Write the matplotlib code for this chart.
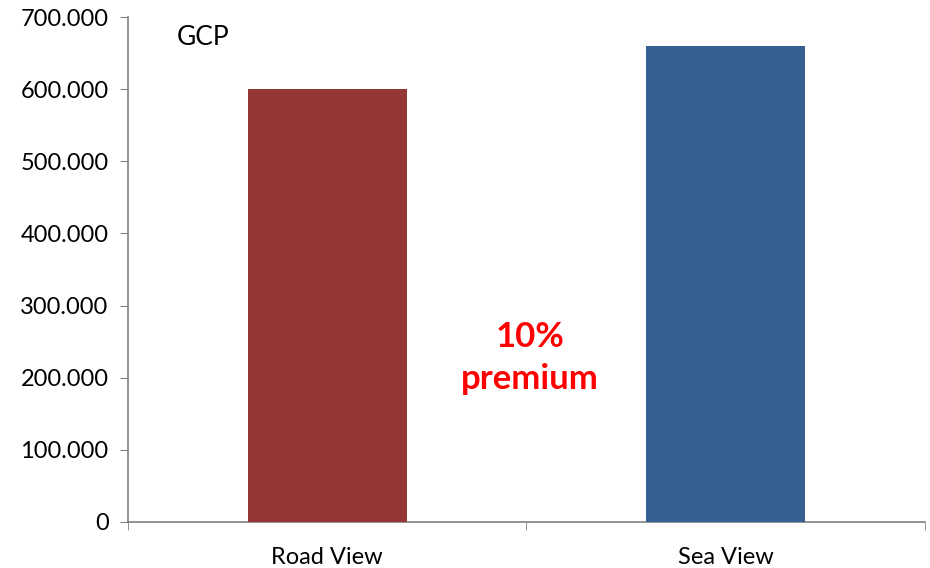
import matplotlib
matplotlib.use('Agg')
import matplotlib.pyplot as plt
from matplotlib.ticker import FuncFormatter, FixedLocator

plt.rcParams['font.family'] = ['Lato', 'DejaVu Sans']

categories = ['Road View', 'Sea View']
values = [600000, 660000]
bar_colors = ['#953735', '#366092']
y_ticks = [0, 100000, 200000, 300000, 400000, 500000, 600000, 700000]


def thousands(v, pos):
    if v == 0:
        return '0'
    return '{:,.0f}'.format(v).replace(',', '.')


fig = plt.figure(figsize=(9.3, 5.68), dpi=100)
ax = fig.add_axes([0.1376, 0.081, 0.857, 0.889])

x = list(range(len(categories)))
ax.bar(x, values, width=0.4, color=bar_colors, zorder=3)

ax.set_xlim(-0.5, len(categories) - 0.5)
ax.set_ylim(0, 700000)
ax.set_yticks(y_ticks)
ax.yaxis.set_major_formatter(FuncFormatter(thousands))

ax.set_xticks(x)
ax.set_xticklabels(categories)
ax.xaxis.set_minor_locator(FixedLocator([-0.5, 0.5, 1.5]))
ax.tick_params(axis='x', which='major', length=0, pad=18, labelsize=17)
ax.tick_params(axis='x', which='minor', length=6, direction='out', color='#808080')
ax.tick_params(axis='y', length=6, direction='out', color='#808080', labelsize=17, pad=8)

for s in ['top', 'right']:
    ax.spines[s].set_visible(False)
for s in ['left', 'bottom']:
    ax.spines[s].set_color('#808080')
    ax.spines[s].set_linewidth(1.2)

ax.text(0.061, 0.985, 'GCP', transform=ax.transAxes, fontsize=19, va='top', ha='left')
ax.text(0.504, 0.325, '10%\npremium', transform=ax.transAxes, fontsize=25,
        fontweight='bold', color='#ff0000', ha='center', va='center', linespacing=1.4)

fig.savefig('out.png', dpi=100)
